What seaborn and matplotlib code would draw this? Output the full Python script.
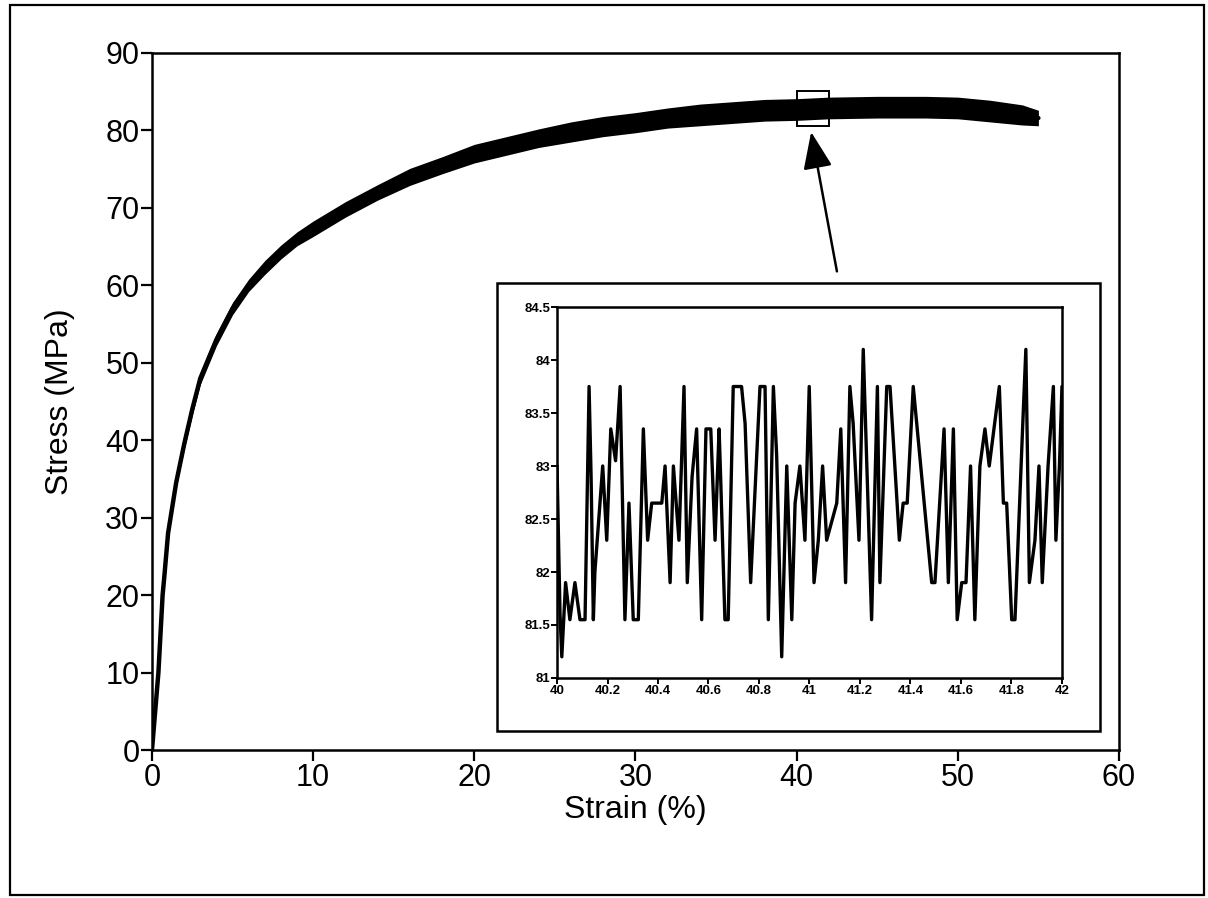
import numpy as np
import pandas as pd
import matplotlib
matplotlib.use("Agg")
import matplotlib.pyplot as plt
from matplotlib.patches import Rectangle
import seaborn as sns

# main stress-strain curve (centre of the noisy band)
strain = [0, 0.2, 0.4, 0.66, 0.75, 1, 1.5, 2, 2.5, 3, 4, 5, 6, 7, 8, 9, 10, 12, 14, 16, 18,
          20, 22, 24, 26, 28, 30, 32, 34, 36, 38, 40, 42, 45, 48, 50, 52, 54, 55]
stress = [0, 5, 10, 20, 22, 28, 34.5, 39.5, 44, 48, 53, 57, 60, 62.3, 64.3, 66, 67.3, 69.8, 72, 74, 75.5,
          77, 78, 79, 79.8, 80.5, 81, 81.6, 82, 82.3, 82.6, 82.7, 82.9, 83.0, 83.0, 82.9, 82.5, 82.0, 81.6]
# half width of the noise band (MPa)
band = [0.1, 0.1, 0.2, 0.3, 0.4, 0.5, 0.6, 0.7, 0.8, 0.8, 0.8, 0.8, 0.8, 0.9, 0.9, 0.9, 1.0, 1.0, 1.0, 1.1, 1.1,
        1.2, 1.2, 1.2, 1.3, 1.3, 1.3, 1.3, 1.4, 1.4, 1.4, 1.4, 1.4, 1.4, 1.4, 1.4, 1.4, 1.3, 1.0]

# zoomed detail 40-42 %
z_strain = [40.000, 40.012, 40.019, 40.034, 40.051, 40.071, 40.091, 40.111, 40.119, 40.127,
            40.135, 40.144, 40.150, 40.181, 40.197, 40.213, 40.232, 40.250, 40.269, 40.285,
            40.302, 40.322, 40.342, 40.359, 40.375, 40.415, 40.428, 40.448, 40.461, 40.483,
            40.503, 40.516, 40.535, 40.553, 40.573, 40.590, 40.609, 40.626, 40.642, 40.648,
            40.665, 40.678, 40.698, 40.731, 40.745, 40.767, 40.804, 40.824, 40.837, 40.857,
            40.870, 40.890, 40.910, 40.930, 40.943, 40.962, 40.982, 40.999, 41.018, 41.035,
            41.052, 41.068, 41.108, 41.124, 41.143, 41.160, 41.173, 41.196, 41.213, 41.246,
            41.269, 41.279, 41.306, 41.319, 41.356, 41.371, 41.387, 41.411, 41.484, 41.497,
            41.533, 41.550, 41.570, 41.585, 41.603, 41.620, 41.638, 41.655, 41.675, 41.695,
            41.712, 41.752, 41.768, 41.781, 41.801, 41.814, 41.844, 41.857, 41.871, 41.893,
            41.909, 41.922, 41.945, 41.966, 41.976, 41.990, 42.000]
z_stress = [83.0, 81.6, 81.2, 81.9, 81.55, 81.9, 81.55, 81.55, 82.65, 83.75,
            82.9, 81.55, 82.0, 83.0, 82.3, 83.35, 83.05, 83.75, 81.55, 82.65,
            81.55, 81.55, 83.35, 82.3, 82.65, 82.65, 83.0, 81.9, 83.0, 82.3,
            83.75, 81.9, 82.9, 83.35, 81.55, 83.35, 83.35, 82.3, 83.35, 82.9,
            81.55, 81.55, 83.75, 83.75, 83.4, 81.9, 83.75, 83.75, 81.55, 83.75,
            83.1, 81.2, 83.0, 81.55, 82.65, 83.0, 82.3, 83.75, 81.9, 82.3,
            83.0, 82.3, 82.65, 83.35, 81.9, 83.75, 83.4, 82.3, 84.1, 81.55,
            83.75, 81.9, 83.75, 83.75, 82.3, 82.65, 82.65, 83.75, 81.9, 81.9,
            83.35, 81.9, 83.35, 81.55, 81.9, 81.9, 83.0, 81.55, 83.0, 83.35,
            83.0, 83.75, 82.65, 82.65, 81.55, 81.55, 83.35, 84.1, 81.9, 82.3,
            83.0, 81.9, 83.0, 83.75, 82.3, 83.0, 83.75]

main_xticks = [0, 10, 20, 30, 40, 50, 60]
main_yticks = [0, 10, 20, 30, 40, 50, 60, 70, 80, 90]
inset_xticks = [40, 40.2, 40.4, 40.6, 40.8, 41, 41.2, 41.4, 41.6, 41.8, 42]
inset_yticks = [81, 81.5, 82, 82.5, 83, 83.5, 84, 84.5]

sns.set_theme(style="ticks")
plt.rcParams["font.family"] = ["Liberation Sans", "DejaVu Sans"]
plt.rcParams["text.color"] = "black"
plt.rcParams["axes.labelcolor"] = "black"

fig = plt.figure(figsize=(12.08, 8.98), dpi=100)
fig.patch.set_facecolor("white")

# outer frame
fig.patches.append(Rectangle((0.008, 0.003), 0.989, 0.991, transform=fig.transFigure,
                             fill=False, lw=1.6, color="black"))

df = pd.DataFrame({"strain": strain, "stress": stress, "band": band})
ax = fig.add_axes([0.1258, 0.1648, 0.8005, 0.7762])
ax.fill_between(df["strain"], df["stress"] - df["band"], df["stress"] + df["band"],
                color="black", lw=0)
sns.lineplot(data=df, x="strain", y="stress", ax=ax, color="black", lw=3.2, estimator=None)
ax.set_xlim(0, 60)
ax.set_ylim(0, 90)
ax.set_xticks(main_xticks)
ax.set_yticks(main_yticks)
ax.tick_params(labelsize=22, length=8, width=1.6, direction="out", colors="black", pad=1)
ax.set_xlabel("Strain (%)", fontsize=23, labelpad=2)
ax.set_ylabel("Stress (MPa)", fontsize=23, labelpad=22)
for s in ax.spines.values():
    s.set_linewidth(1.8)
    s.set_color("black")

# zoom box and arrow
ax.add_patch(Rectangle((40, 80.6), 2, 4.5, fill=False, lw=1.4, color="black", zorder=5))
ax.annotate("", xy=(40.9, 79.8), xytext=(42.5, 61.8),
            arrowprops=dict(arrowstyle="-|>,head_length=1.9,head_width=0.75",
                            color="black", lw=1.8, shrinkA=0, shrinkB=0))

# inset outer box
fig.patches.append(Rectangle((497 / 1208, 1 - 731 / 898), 603 / 1208, 448 / 898,
                             transform=fig.transFigure, fill=True, facecolor="white",
                             edgecolor="black", lw=1.8, zorder=3))

zdf = pd.DataFrame({"strain": z_strain, "stress": z_stress})
axi = fig.add_axes([0.4611, 0.245, 0.418, 0.4131], zorder=5)
sns.lineplot(data=zdf, x="strain", y="stress", ax=axi, color="black", lw=2.4,
             estimator=None, sort=False)
axi.set_xlim(40, 42)
axi.set_ylim(81, 84.5)
axi.set_xticks(inset_xticks)
axi.set_xticklabels([f"{t:g}" for t in inset_xticks])
axi.set_yticks(inset_yticks)
axi.set_yticklabels([f"{t:g}" for t in inset_yticks])
axi.tick_params(labelsize=9.5, length=4, width=1.4, direction="out", pad=1, colors="black")
for lab in axi.get_xticklabels() + axi.get_yticklabels():
    lab.set_fontweight("bold")
axi.set_xlabel("")
axi.set_ylabel("")
for s in axi.spines.values():
    s.set_linewidth(1.8)
    s.set_color("black")

fig.savefig("out.png", dpi=100, facecolor="white")
